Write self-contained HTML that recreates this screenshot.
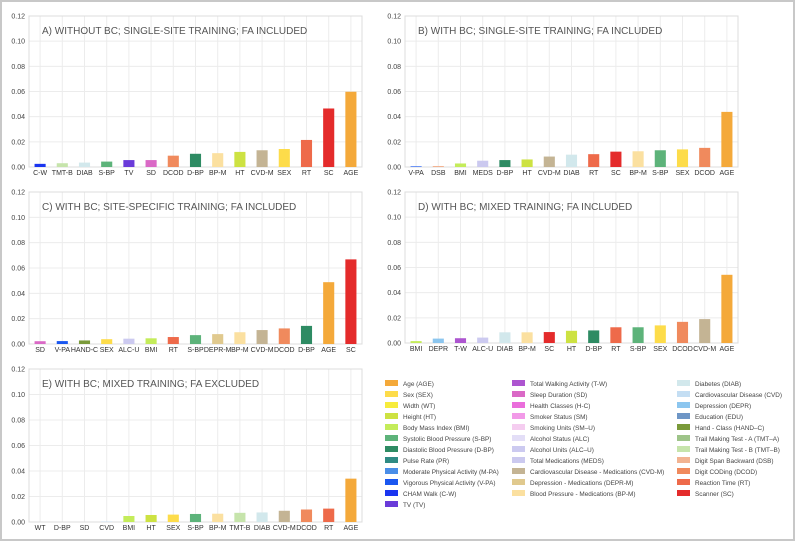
<!DOCTYPE html>
<html><head><meta charset="utf-8">
<style>
html,body{margin:0;padding:0;background:#fff;}
svg{display:block;font-family:"Liberation Sans",sans-serif;}
</style></head>
<body>
<svg id="fig" width="796" height="542" viewBox="0 0 796 542">
<rect x="1" y="1" width="793" height="539" fill="#fff" stroke="#c8c8c8" stroke-width="2"/>
</svg>
<script>
const colors = {
 'AGE':'#f4a93a','SEX':'#fddc4a','WT':'#f7ec3c','HT':'#cde242','BMI':'#c4ec5a','S-BP':'#5db37a','D-BP':'#2e8b63','PR':'#2f8b84',
 'M-PA':'#4a8ee8','V-PA':'#1a57f0','C-W':'#1a35f0','TV':'#6a3bd9','T-W':'#ad55d0','SD':'#da69c6','H-C':'#ea6edb','SM':'#f29ae8',
 'SM-U':'#f5cdf0','ALC':'#e3def7','ALC-U':'#cccaf0','MEDS':'#cbc9ef','CVD-M':'#c4b494','DEPR-M':'#e0c98e','BP-M':'#fbe0a0',
 'DIAB':'#d2e8ec','CVD':'#c4def3','DEPR':'#8cc6ef','EDU':'#6e96c6','HAND-C':'#7a9a3a','TMT-A':'#9ec489','TMT-B':'#c6e4ab',
 'DSB':'#f2b391','DCOD':'#f08a5d','RT':'#ee6a4a','SC':'#e42b2b'};
const yTicks = [0,0.02,0.04,0.06,0.08,0.10,0.12];
const yTickLabels = ['0.00','0.02','0.04','0.06','0.08','0.10','0.12'];

const catsA = ['C-W','TMT-B','DIAB','S-BP','TV','SD','DCOD','D-BP','BP-M','HT','CVD-M','SEX','RT','SC','AGE'];
const valsA = [0.0025,0.003,0.0035,0.0043,0.0055,0.0055,0.009,0.0105,0.011,0.012,0.0133,0.0143,0.0215,0.0465,0.0598];
const catsB = ['V-PA','DSB','BMI','MEDS','D-BP','HT','CVD-M','DIAB','RT','SC','BP-M','S-BP','SEX','DCOD','AGE'];
const valsB = [0.0005,0.0008,0.0028,0.005,0.0055,0.006,0.0083,0.0098,0.0102,0.0122,0.0125,0.0133,0.014,0.0152,0.0438];
const catsC = ['SD','V-PA','HAND-C','SEX','ALC-U','BMI','RT','S-BP','DEPR-M','BP-M','CVD-M','DCOD','D-BP','AGE','SC'];
const valsC = [0.0022,0.0023,0.0028,0.0038,0.0042,0.0045,0.0055,0.007,0.0078,0.0093,0.011,0.0123,0.0143,0.0488,0.0668];
const catsD = ['BMI','DEPR','T-W','ALC-U','DIAB','BP-M','SC','HT','D-BP','RT','S-BP','SEX','DCOD','CVD-M','AGE'];
const valsD = [0.0015,0.0035,0.0038,0.0043,0.0085,0.0085,0.0087,0.0097,0.01,0.0125,0.0125,0.014,0.0168,0.019,0.0542];
const catsE = ['WT','D-BP','SD','CVD','BMI','HT','SEX','S-BP','BP-M','TMT-B','DIAB','CVD-M','DCOD','RT','AGE'];
const valsE = [0,0,0,0.0003,0.0047,0.0055,0.0058,0.0063,0.0065,0.0072,0.0075,0.0088,0.0098,0.0105,0.034];

const legendCol1 = [['AGE','Age (AGE)'],['SEX','Sex (SEX)'],['WT','Width (WT)'],['HT','Height (HT)'],['BMI','Body Mass Index (BMI)'],['S-BP','Systolic Blood Pressure (S-BP)'],['D-BP','Diastolic Blood Pressure (D-BP)'],['PR','Pulse Rate (PR)'],['M-PA','Moderate Physical Activity (M-PA)'],['V-PA','Vigorous Physical Activity (V-PA)'],['C-W','CHAM Walk (C-W)'],['TV','TV (TV)']];
const legendCol2 = [['T-W','Total Walking Activity (T-W)'],['SD','Sleep Duration (SD)'],['H-C','Health Classes (H-C)'],['SM','Smoker Status (SM)'],['SM-U','Smoking Units (SM–U)'],['ALC','Alcohol Status (ALC)'],['ALC-U','Alcohol Units (ALC–U)'],['MEDS','Total Medications (MEDS)'],['CVD-M','Cardiovascular Disease - Medications (CVD-M)'],['DEPR-M','Depression - Medications (DEPR-M)'],['BP-M','Blood Pressure - Medications (BP-M)']];
const legendCol3 = [['DIAB','Diabetes (DIAB)'],['CVD','Cardiovascular Disease (CVD)'],['DEPR','Depression (DEPR)'],['EDU','Education (EDU)'],['HAND-C','Hand - Class (HAND–C)'],['TMT-A','Trail Making Test - A (TMT–A)'],['TMT-B','Trail Making Test - B (TMT–B)'],['DSB','Digit Span Backward (DSB)'],['DCOD','Digit CODing (DCOD)'],['RT','Reaction Time (RT)'],['SC','Scanner (SC)']];

const NS='http://www.w3.org/2000/svg';
const svg=document.getElementById('fig');
function mk(tag,attrs,parent){const e=document.createElementNS(NS,tag);for(const k in attrs)e.setAttribute(k,attrs[k]);(parent||svg).appendChild(e);return e;}

function panel(id,title,cats,vals,L,R,T,B){
  const g=mk('g',{});
  
  
  const ymax=0.12;
  const y=v=>B-(v/ymax)*(B-T);
  const step=(R-L)/cats.length;
  const x=i=>L+step*(i+0.5);
  yTicks.forEach((t,i)=>{
    mk('line',{x1:L,x2:R,y1:y(t),y2:y(t),stroke:'#ececec','stroke-width':1},g);
    const tl=mk('text',{x:L-4,y:y(t)+2.5,'font-size':7,fill:'#444','text-anchor':'end'},g);
    tl.textContent=yTickLabels[i];
    
    
  });
  cats.forEach((c,i)=>mk('line',{x1:x(i),x2:x(i),y1:T,y2:B,stroke:'#ececec','stroke-width':1},g));
  mk('rect',{x:L,y:T,width:R-L,height:B-T,fill:'none',stroke:'#dcdcdc','stroke-width':1},g);
  const bw=step*0.5;
  cats.forEach((c,i)=>{
    const h=Math.max(0,B-y(vals[i]));
    const r=mk('rect',{x:x(i)-bw/2,y:B-h,width:bw,height:h,fill:colors[c]},g);
    
    
    const t=mk('text',{x:x(i),y:B+8,'font-size':7,fill:'#333','text-anchor':'middle'},g);
    t.textContent=c;
    
    
  });
  const tt=mk('text',{x:L+13,y:T+18,'font-size':10,fill:'#555'},g);
  tt.textContent=title;
  
  
}
panel('a','A) WITHOUT BC; SINGLE-SITE TRAINING; FA INCLUDED',catsA,valsA,29,362,16,167);
panel('b','B) WITH BC; SINGLE-SITE TRAINING; FA INCLUDED',catsB,valsB,405,738,16,167);
panel('c','C) WITH BC; SITE-SPECIFIC TRAINING; FA INCLUDED',catsC,valsC,29,362,192,344);
panel('d','D) WITH BC; MIXED TRAINING; FA INCLUDED',catsD,valsD,405,738,192,343);
panel('e','E) WITH BC; MIXED TRAINING; FA EXCLUDED',catsE,valsE,29,362,369,522);

const lg=mk('g',{});


function legendCol(items,sx){
  items.forEach((it,i)=>{
    const yy=380+i*11;
    const r=mk('rect',{x:sx,y:yy,width:13,height:6,fill:colors[it[0]]},lg);
    
    
    const t=mk('text',{x:sx+18,y:yy+6,'font-size':6.4,fill:'#444'},lg);
    t.textContent=it[1];
    
    
  });
}
legendCol(legendCol1,385);
legendCol(legendCol2,512);
legendCol(legendCol3,677);
</script>
</body></html>
